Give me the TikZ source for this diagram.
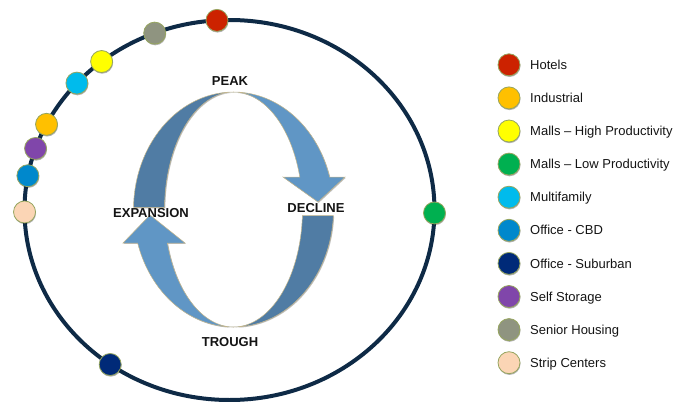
\documentclass[tikz,border=0pt]{standalone}
\usepackage{fontspec}
\setmainfont{Liberation Sans}
\usetikzlibrary{shadows}
\definecolor{ringc}{RGB}{14,42,70}
\definecolor{dotrim}{RGB}{150,165,95}
\definecolor{bandrim}{RGB}{196,182,140}
\definecolor{darkband}{RGB}{80,124,164}
\definecolor{lightband}{RGB}{96,150,197}
\definecolor{hotc}{RGB}{204,34,0}
\definecolor{indc}{RGB}{255,192,0}
\definecolor{mhic}{RGB}{255,255,0}
\definecolor{mloc}{RGB}{0,176,80}
\definecolor{mfc}{RGB}{0,187,236}
\definecolor{cbdc}{RGB}{0,136,204}
\definecolor{subc}{RGB}{0,42,120}
\definecolor{ssc}{RGB}{128,70,170}
\definecolor{shc}{RGB}{143,148,128}
\definecolor{stc}{RGB}{251,213,181}
\definecolor{txtc}{RGB}{20,20,20}
\begin{document}
\begin{tikzpicture}[x=1pt,y=-1pt,
  dot/.style={circle, minimum size=22pt, inner sep=0pt, draw=dotrim, line width=0.8pt, fill=#1,
    drop shadow={shadow xshift=0.5pt, shadow yshift=-1.2pt, opacity=0.3, fill=black}},
  ring/.style={draw=ringc, line width=4pt},
  band/.style={fill=#1, draw=bandrim, line width=0.5pt,
    drop shadow={shadow xshift=0.8pt, shadow yshift=-0.8pt, opacity=0.25, fill=black}},
  phase/.style={font=\bfseries\fontsize{13}{15}\selectfont, text=txtc, inner sep=0pt, anchor=base},
  legtext/.style={font=\fontsize{13}{15}\selectfont, text=txtc, inner sep=0pt, anchor=base west}]
\useasboundingbox (0,0) rectangle (689,402);
% outer ring
\draw[ring] (229.5,210) ellipse [x radius=205pt, y radius=190pt];
% cycle bands
\path[band=darkband]
  plot[domain=90:179, samples=40] ({233.5+100*cos(\x)},{209.5-117.5*sin(\x)})
  -- plot[domain=179:90, samples=40] ({233.5+69*cos(\x)},{209.5-117.5*sin(\x)}) -- cycle;
\path[band=darkband]
  plot[domain=-3:-90, samples=40] ({233.5+100*cos(\x)},{209.5-117.5*sin(\x)})
  -- plot[domain=-90:-3, samples=40] ({233.5+69*cos(\x)},{209.5-117.5*sin(\x)}) -- cycle;
\path[band=lightband]
  plot[domain=90:16, samples=40] ({233.5+100*cos(\x)},{209.5-117.5*sin(\x)})
  -- (345,177) -- (318,202) -- (283,177)
  -- plot[domain=16:90, samples=40] ({233.5+69*cos(\x)},{209.5-117.5*sin(\x)}) -- cycle;
\path[band=lightband]
  plot[domain=270:196.6, samples=40] ({233.5+100*cos(\x)},{209.5-117.5*sin(\x)})
  -- (123,243) -- (150,215) -- (185,243)
  -- plot[domain=196.6:270, samples=40] ({233.5+69*cos(\x)},{209.5-117.5*sin(\x)}) -- cycle;
% phase labels
\node[phase] (peak) at (230,85.7) {PEAK};
\node[phase] (expansion) at (151,217.4) {EXPANSION};
\node[phase] (decline) at (316,212.7) {DECLINE};
\node[phase] (trough) at (230,346.7) {TROUGH};
% dots on ring
\foreach \n/\c/\a in {hotels/hotc/93.5, senior/shc/111.4, mallshi/mhic/128.6, multi/mfc/138.1,
  industrial/indc/153.2, storage/ssc/161.1, cbd/cbdc/169.6, strip/stc/180.6,
  suburban/subc/234.4, mallslo/mloc/359.1}
  \node[dot=\c] (ring-\n) at ({229.5+205*cos(\a)},{210-190*sin(\a)}) {};
% legend
\foreach \c/\t [count=\i from 0] in {hotc/Hotels, indc/Industrial, mhic/Malls – High Productivity,
  mloc/Malls – Low Productivity, mfc/Multifamily, cbdc/Office - CBD, subc/Office - Suburban,
  ssc/Self Storage, shc/Senior Housing, stc/Strip Centers}
{
  \node[dot=\c] (legdot\i) at (509,{64.8+33.1*\i}) {};
  \node[legtext] (legtxt\i) at (530,{64.8+33.1*\i+4.6}) {\t};
}
\end{tikzpicture}
\end{document}
